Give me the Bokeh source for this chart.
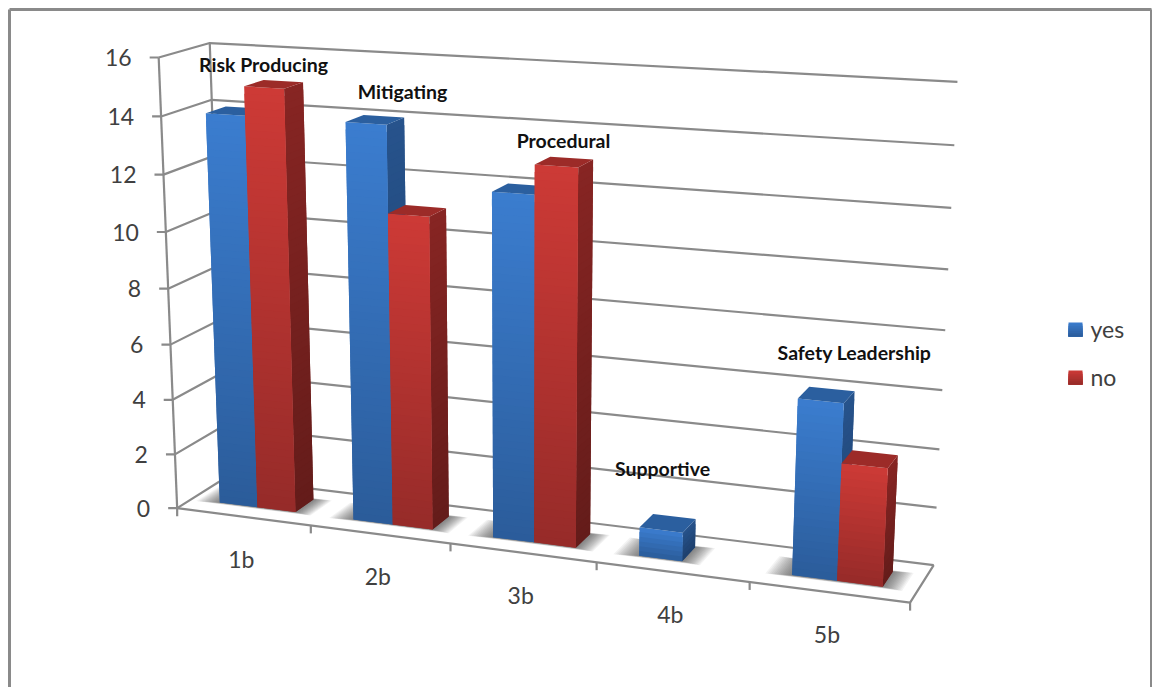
import numpy as np
from bokeh.plotting import figure
from bokeh.embed import file_html
from bokeh.resources import INLINE
from bokeh.core.properties import value

categories = ["1b", "2b", "3b", "4b", "5b"]
yes_values = [14, 14, 12, 1, 6]
no_values = [15, 11, 13, 0, 4]
y_ticks = [0, 2, 4, 6, 8, 10, 12, 14, 16]
callouts = ["Risk Producing", "Mitigating", "Procedural", "Supportive", "Safety Leadership"]
legend_names = ["yes", "no"]

Y_MAX = 16
BAR = 1 / 3.5          # column width in category units (gap width 150%)
Z0, Z1 = 0.3, 0.7      # column extent along the depth axis
FONT = value("Lato")
AXIS_COLOR = "#8a8a8a"
TEXT_COLOR = "#404040"

# Reference points of the plot box on the page: (x frac, y frac, depth) -> pixel
box_corners = [
    ((0, 0, 0), (178, 507)), ((0, 1, 0), (157, 58)),
    ((0, 0, 1), (222, 480)), ((0, 1, 1), (211, 43)),
    ((1, 1, 1), (957, 82)), ((1, 0, 1), (933, 563)),
    ((1, 0, 0), (909, 603)),
    # left front edge
    ((0, 14 / 16, 0), (159, 116)), ((0, 12 / 16, 0), (162, 174)),
    ((0, 10 / 16, 0), (165, 231)), ((0, 8 / 16, 0), (168, 287)),
    ((0, 6 / 16, 0), (171, 343)), ((0, 4 / 16, 0), (173, 398)),
    ((0, 2 / 16, 0), (176, 453)),
    # right back edge
    ((1, 14 / 16, 1), (954, 145)), ((1, 12 / 16, 1), (951, 208)),
    ((1, 10 / 16, 1), (948, 269)), ((1, 8 / 16, 1), (945, 329)),
    ((1, 6 / 16, 1), (942, 389)), ((1, 4 / 16, 1), (939, 448)),
    ((1, 2 / 16, 1), (936, 506)),
    # front floor edge
    ((0.2, 0, 0), (311, 525)), ((0.4, 0, 0), (449, 544)),
    ((0.6, 0, 0), (596, 563)), ((0.8, 0, 0), (749, 583)),
]


def solve_camera(corners):
    rows = []
    for (X, Y, Z), (u, v) in corners:
        rows.append([X, Y, Z, 1, 0, 0, 0, 0, -u * X, -u * Y, -u * Z, -u])
        rows.append([0, 0, 0, 0, X, Y, Z, 1, -v * X, -v * Y, -v * Z, -v])
    return np.linalg.svd(np.array(rows, float))[2][-1].reshape(3, 4)


CAM = solve_camera(box_corners)


def proj(x, y, z):
    """Category position, value and depth to page pixels."""
    h = CAM @ np.array([x / len(categories), y / Y_MAX, z, 1.0])
    return h[0] / h[2], h[1] / h[2]


def poly(*pts):
    pp = [proj(*q) for q in pts]
    return [a for a, _ in pp], [b for _, b in pp]


def mix(c1, c2, t):
    a = np.array([int(c1[i:i + 2], 16) for i in (1, 3, 5)])
    b = np.array([int(c2[i:i + 2], 16) for i in (1, 3, 5)])
    r = np.round(a + (b - a) * t).astype(int)
    return "#%02x%02x%02x" % tuple(r)


p = figure(width=1152, height=687, x_range=(0, 1152), y_range=(687, 0),
           output_backend="svg", toolbar_location=None, min_border=0)
p.axis.visible = False
p.grid.visible = False
p.outline_line_color = None
p.background_fill_color = "#ffffff"
p.border_fill_color = "#ffffff"

# Outer chart frame, open along the bottom
p.multi_line([[9, 9], [9, 1151], [1151, 1151]], [[687, 9], [9, 9], [9, 687]],
             line_color="#8a8a8a", line_width=3)

# Walls: gridlines on the back and left, floor outline, axis ticks
lx, ly = [], []
for t in y_ticks:
    a = poly((0, t, 0), (0, t, 1), (5, t, 1))
    lx.append(a[0]); ly.append(a[1])
    fx, fy = proj(0, t, 0)
    lx.append([fx - 9, fx]); ly.append([fy, fy])
for a in [poly((0, 0, 1), (0, Y_MAX, 1)), poly((0, 0, 0), (0, Y_MAX, 0)),
          poly((0, 0, 0), (5, 0, 0), (5, 0, 1))]:
    lx.append(a[0]); ly.append(a[1])
for i in range(len(categories) + 1):
    fx, fy = proj(i, 0, 0)
    lx.append([fx, fx]); ly.append([fy, fy + 8])
p.multi_line(lx, ly, line_color=AXIS_COLOR, line_width=2.2)

# Soft contact shadows under each cluster
sx, sy = [], []
LAYERS = 14
for i, (a, b) in enumerate(zip(yes_values, no_values)):
    left = i + 0.5 - BAR
    right = i + 0.5 + (BAR if b > 0 else 0)
    for k in range(LAYERS):
        e = 0.009 * (LAYERS - k)
        q = poly((left - e * 1.3, 0, Z0 - e * 0.35), (right + e, 0, Z0 - e * 0.35),
                 (right + e, 0, Z1 + e * 0.3), (left - e * 1.3, 0, Z1 + e * 0.3))
        sx.append(q[0]); sy.append(q[1])
p.patches(sx, sy, fill_color="#303030", fill_alpha=0.06, line_color=None)

# Columns, painted left to right; each gradient strip overlaps the one below
# it and is partly covered by it, so no seams show between strips
PALETTE = {
    "yes": dict(front=("#3b7dcf", "#2b5c9a"), side=("#27538c", "#1d3f6c"), top="#2b5f9f"),
    "no": dict(front=("#cd3a36", "#962b29"), side=("#872523", "#641c1a"), top="#9c2b28"),
}
bx, by, bc = [], [], []


def add_column(x0, x1, h, pal):
    n = max(6, int(h * 4))
    for k in range(n):
        y1 = h * (1 - k / n)
        y2 = max(0, h * (1 - (k + 2) / n))
        s = poly((x1, y1, Z0), (x1, y1, Z1), (x1, y2, Z1), (x1, y2, Z0))
        bx.append(s[0]); by.append(s[1]); bc.append(mix(*pal["side"], (k + 0.5) / n))
    for k in range(n):
        y1 = h * (1 - k / n)
        y2 = max(0, h * (1 - (k + 2) / n))
        q = poly((x0, y1, Z0), (x1, y1, Z0), (x1, y2, Z0), (x0, y2, Z0))
        bx.append(q[0]); by.append(q[1]); bc.append(mix(*pal["front"], (k + 0.5) / n))
    t = poly((x0, h, Z0), (x1, h, Z0), (x1, h, Z1), (x0, h, Z1))
    bx.append(t[0]); by.append(t[1]); bc.append(pal["top"])


for i, (a, b) in enumerate(zip(yes_values, no_values)):
    mid = i + 0.5
    if a > 0:
        add_column(mid - BAR, mid, a, PALETTE["yes"])
    if b > 0:
        add_column(mid, mid + BAR, b, PALETTE["no"])
p.patches(bx, by, fill_color=bc, line_color=None)

# Value axis labels
tx, ty = [], []
for t in y_ticks:
    fx, fy = proj(0, t, 0)
    tx.append(fx - 27); ty.append(fy)
p.text(tx, ty, text=[str(t) for t in y_ticks], text_font=FONT, text_font_size="23px",
       text_color=TEXT_COLOR, text_align="right", text_baseline="middle")

# Category labels
cx, cy = [], []
for i in range(len(categories)):
    fx, fy = proj(i + 0.5, 0, 0)
    cx.append(fx - 2); cy.append(fy + 42)
p.text(cx, cy, text=categories, text_font=FONT, text_font_size="23px",
       text_color=TEXT_COLOR, text_align="center", text_baseline="middle")

# Callouts above each group
callout_x = [263, 402, 563, 662, 854]
callout_y = [64, 91, 140, 468, 352]
p.text(callout_x, callout_y, text=callouts, text_font=FONT, text_font_size="19.5px",
       text_font_style="bold", text_color="#111111", text_align="center",
       text_baseline="middle")

# Legend swatches and names
legend_y = [329, 377]
for name, yc in zip(legend_names, legend_y):
    c1, c2 = PALETTE[name]["front"]
    n = 8
    tops = [yc - 7 + k * 14 / n for k in range(n)]
    p.quad(left=1068, right=1082, top=tops, bottom=yc + 7,
           fill_color=[mix(c1, c2, (k + 0.5) / n) for k in range(n)], line_color=None)
p.text([1090, 1090], [y - 1 for y in legend_y], text=legend_names, text_font=FONT,
       text_font_size="23px", text_color=TEXT_COLOR, text_align="left", text_baseline="middle")

open("out.html", "w").write(file_html(p, INLINE))
